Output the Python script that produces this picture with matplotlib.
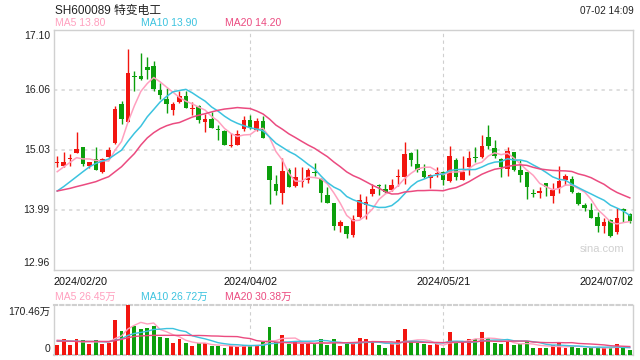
import numpy as np
import pandas as pd
import matplotlib
matplotlib.use('Agg')
import matplotlib.pyplot as plt
from matplotlib.transforms import blended_transform_factory

plt.rcParams['font.family'] = ['Liberation Sans', 'Noto Sans CJK SC']

# daily candles, 2024/02/20 .. 2024/07/02
opens = [14.80, 14.75, 14.86, 14.975, 15.067, 14.745, 14.86, 14.647, 14.894, 15.136,
         15.815, 15.51, 16.297, 16.297, 16.453, 16.47, 16.056, 15.906, 15.711, 15.849,
         15.953, 15.734, 15.78, 15.51, 15.556, 15.378, 15.349, 15.09, 15.107, 15.389,
         15.539, 15.366, 15.52, 14.745, 14.435, 14.285, 14.676, 14.40, 14.475, 14.503,
         14.647, 14.52, 14.245, 14.101, 13.716, 13.71, 13.56, 13.87, 14.078, 14.262,
         14.417, 14.343, 14.331, 14.555, 14.561, 14.975, 14.774, 14.659, 14.532, 14.613,
         14.647, 14.486, 14.848, 14.509, 14.733, 14.906, 14.906, 15.251, 15.055, 14.86,
         14.688, 14.987, 14.676, 14.641, 14.285, 14.285, 14.446, 14.227, 14.36, 14.503,
         14.52, 14.285, 14.072, 13.986, 13.86, 13.716, 13.814, 13.612, 13.997, 13.917]
closes = [14.81, 14.814, 14.89, 15.038, 14.785, 14.808, 14.682, 14.866, 15.015, 15.728,
          15.556, 16.35, 16.28, 16.25, 16.407, 16.073, 15.975, 15.82, 15.815, 15.953,
          15.751, 15.745, 15.539, 15.556, 15.406, 15.36, 15.107, 15.107, 15.291, 15.539,
          15.395, 15.52, 15.234, 14.51, 14.314, 14.659, 14.388, 14.555, 14.49, 14.676,
          14.62, 14.285, 14.112, 13.716, 13.779, 13.572, 13.825, 14.158, 14.118, 14.343,
          14.394, 14.302, 14.417, 14.578, 14.952, 14.848, 14.676, 14.561, 14.59, 14.63,
          14.509, 14.918, 14.561, 14.641, 14.883, 14.883, 15.09, 15.09, 14.918, 14.722,
          15.004, 14.67, 14.59, 14.388, 14.268, 14.308, 14.388, 14.331, 14.486, 14.572,
          14.302, 14.09, 14.026, 13.854, 13.71, 13.785, 13.537, 13.842, 13.969, 13.802]
highs = [14.92, 14.987, 14.95, 15.337, 15.067, 14.82, 15.067, 14.89, 15.067, 15.78,
         15.872, 16.757, 16.378, 16.694, 16.62, 16.556, 16.171, 16.085, 15.855, 16.033,
         16.045, 15.855, 15.797, 15.65, 15.67, 15.452, 15.366, 15.32, 15.366, 15.607,
         15.625, 15.567, 15.607, 14.745, 14.59, 14.889, 14.716, 14.733, 14.733, 14.716,
         14.79, 14.532, 14.388, 14.101, 13.814, 13.71, 13.90, 14.256, 14.233, 14.435,
         14.43, 14.435, 14.52, 14.688, 15.165, 14.99, 15.038, 14.774, 14.607, 14.733,
         14.664, 15.09, 14.877, 14.918, 15.004, 15.067, 15.274, 15.452, 15.194, 14.877,
         15.067, 14.99, 14.848, 14.641, 14.348, 14.377, 14.46, 14.446, 14.75, 14.607,
         14.578, 14.302, 14.101, 14.112, 13.957, 13.842, 13.825, 14.026, 14.015, 13.928]
lows = [14.72, 14.72, 14.75, 14.975, 14.745, 14.705, 14.68, 14.62, 14.877, 15.125,
        15.475, 15.51, 16.045, 16.23, 16.25, 16.045, 15.906, 15.66, 15.63, 15.84,
        15.74, 15.63, 15.493, 15.326, 15.395, 15.194, 15.10, 15.08, 15.10, 15.349,
        15.378, 15.349, 15.234, 14.095, 14.25, 14.095, 14.388, 14.388, 14.388, 14.446,
        14.578, 14.118, 14.101, 13.64, 13.612, 13.497, 13.514, 13.842, 13.825, 14.233,
        14.25, 14.274, 14.314, 14.40, 14.435, 14.75, 14.647, 14.532, 14.371, 14.561,
        14.417, 14.463, 14.503, 14.509, 14.59, 14.82, 14.889, 15.033, 14.877, 14.561,
        14.572, 14.659, 14.475, 14.17, 14.204, 14.187, 14.227, 14.112, 14.274, 14.417,
        14.285, 14.072, 13.969, 13.85, 13.612, 13.584, 13.514, 13.572, 13.785, 13.756]
# volume in 万
volumes = [31, 52, 31, 52, 50, 35, 49, 35, 38, 118,
           80, 170.46, 97, 88, 90, 97, 59, 57, 38, 53,
           38, 28, 39, 39, 28, 28, 24, 30, 30, 34,
           30, 31, 42, 94, 43, 66, 35, 45, 36, 35,
           35, 55, 31, 53, 29, 35, 37, 56, 52, 44,
           31, 21, 35, 49, 87, 43, 38, 35, 31, 35,
           21, 77, 43, 44, 52, 53, 77, 57, 38, 35,
           42, 31, 36, 46, 24, 21, 21, 31, 38, 21,
           29, 24, 21, 24, 23, 21, 24, 35, 21, 17]

# MA values before the window is full
ma5_head = [14.647, 14.73, 14.808, 14.889]
ma10_head = [14.314, 14.39, 14.475, 14.561, 14.647, 14.73, 14.79, 14.83, 14.866]
ma20_head = [14.314, 14.337, 14.36, 14.39, 14.417, 14.446, 14.475, 14.52, 14.561, 14.647,
             14.733, 14.848, 14.96, 15.107, 15.23, 15.32, 15.39, 15.44, 15.475]
vma5_head = [50, 48, 46, 45]
vma10_head = [47, 47, 46, 46, 45, 45, 45, 44, 44]
vma20_head = [46, 46, 46, 45, 45, 45, 45, 45, 45, 48, 52, 58, 62, 64, 65, 66, 66, 66, 66]

y_ticks = [17.10, 16.06, 15.03, 13.99, 12.96]
date_labels = ['2024/02/20', '2024/04/02', '2024/05/21', '2024/07/02']
date_idx = [0, 30, 60, 89]

RED = '#f2150f'
GREEN = '#0c9f0c'
C5, C10, C20 = '#ffa0bf', '#3cc3df', '#eb4b80'
GRID = '#d9d9d9'


def moving_avg(values, n, head):
    ma = pd.Series(values).rolling(n).mean().to_numpy()
    ma[:n - 1] = head
    return ma


def main():
    x = np.arange(len(closes))
    o = np.array(opens); c = np.array(closes)
    colors = [RED if cc >= oo else GREEN for oo, cc in zip(o, c)]

    fig = plt.figure(figsize=(6.4, 3.6), dpi=100)
    ax = fig.add_axes([54 / 640, 90.5 / 360, 579 / 640, 240 / 360])
    vax = fig.add_axes([54 / 640, 5.5 / 360, 579 / 640, 49.5 / 360])

    # candles
    ax.vlines(x, lows, highs, colors=colors, linewidth=1.0, zorder=3)
    body_lo = np.minimum(o, c)
    body_h = np.maximum(np.abs(c - o), 0.02)
    ax.bar(x, body_h, bottom=body_lo, width=0.7, color=colors, zorder=4, linewidth=0)

    ax.plot(x, moving_avg(closes, 5, ma5_head), color=C5, lw=1.1, zorder=5)
    ax.plot(x, moving_avg(closes, 10, ma10_head), color=C10, lw=1.1, zorder=5)
    ax.plot(x, moving_avg(closes, 20, ma20_head), color=C20, lw=1.1, zorder=5)

    ax.set_xlim(-0.5, 89.5)
    ax.set_ylim(12.96, 17.10)
    for v in y_ticks[1:-1]:
        ax.axhline(v, color=GRID, lw=1.2, ls=(0, (2, 2.5)), zorder=1)
    for i in date_idx[1:3]:
        ax.axvline(i, color='#cfcfcf', lw=0.8, ls=(0, (3, 3)), zorder=1)

    # volume
    vax.bar(x, volumes, width=0.6, color=colors, linewidth=0, zorder=3)
    vax.plot(x, moving_avg(volumes, 5, vma5_head), color=C5, lw=1.0, zorder=4)
    vax.plot(x, moving_avg(volumes, 10, vma10_head), color=C10, lw=1.0, zorder=4)
    vax.plot(x, moving_avg(volumes, 20, vma20_head), color=C20, lw=1.0, zorder=4)
    vax.set_xlim(-0.5, 89.5)
    vax.set_ylim(0, 170.46)
    for i in date_idx[1:3]:
        vax.axvline(i, color='#cfcfcf', lw=0.8, ls=(0, (3, 3)), zorder=1)

    for a in (ax, vax):
        a.set_xticks([]); a.set_yticks([])
        for s in a.spines.values():
            s.set_color('#d0d0d0'); s.set_linewidth(1.0)
    vax.spines['top'].set_linestyle((0, (1.5, 1.5)))
    vax.spines['top'].set_linewidth(1.5)
    vax.spines['bottom'].set_linestyle((0, (1.5, 1.5)))
    vax.spines['bottom'].set_linewidth(1.5)

    # y labels
    yt = blended_transform_factory(ax.transAxes, ax.transData)
    for v in y_ticks:
        va = 'top' if v == y_ticks[0] else ('bottom' if v == y_ticks[-1] else 'center')
        off = -0.02 if va == 'top' else (0.02 if va == 'bottom' else 0)
        ax.text(-0.007, v + off, f'{v:.2f}', transform=yt, ha='right', va=va,
                fontsize=7.5, color='#222222')
    vt = blended_transform_factory(vax.transAxes, vax.transData)
    vax.text(-0.007, 165, '170.46万', transform=vt, ha='right', va='top', fontsize=7.5, color='#222222')
    vax.text(-0.007, 3, '0', transform=vt, ha='right', va='bottom', fontsize=7.5, color='#222222')

    # date labels
    xt = blended_transform_factory(ax.transData, ax.transAxes)
    for lab, i in zip(date_labels, date_idx):
        ha = 'left' if i == 0 else ('right' if i == date_idx[-1] else 'center')
        xpos = -0.5 if i == 0 else (89.5 if i == date_idx[-1] else i)
        ax.text(xpos, -0.03, lab, transform=xt, ha=ha, va='top', fontsize=7.8, color='#111111')

    # header texts
    fig.text(55 / 640, 1 - 11 / 360, 'SH600089 特变电工', fontsize=8.5, va='center', color='#222222')
    fig.text(634 / 640, 1 - 11 / 360, '07-02 14:09', fontsize=7.2, va='center', ha='right', color='#222222')
    fig.text(55 / 640, 1 - 23.5 / 360, 'MA5 13.80', fontsize=7.5, va='center', color=C5)
    fig.text(141 / 640, 1 - 23.5 / 360, 'MA10 13.90', fontsize=7.5, va='center', color=C10)
    fig.text(225 / 640, 1 - 23.5 / 360, 'MA20 14.20', fontsize=7.5, va='center', color=C20)
    fig.text(55 / 640, 1 - 297 / 360, 'MA5 26.45万', fontsize=7.5, va='center', color=C5)
    fig.text(141 / 640, 1 - 297 / 360, 'MA10 26.72万', fontsize=7.5, va='center', color=C10)
    fig.text(225 / 640, 1 - 297 / 360, 'MA20 30.38万', fontsize=7.5, va='center', color=C20)
    fig.text(602 / 640, 1 - 249 / 360, 'sina.com', fontsize=8, va='center', ha='center', color='#d0d0d0')

    fig.savefig('out.png', dpi=100)


if __name__ == "__main__":
    main()
